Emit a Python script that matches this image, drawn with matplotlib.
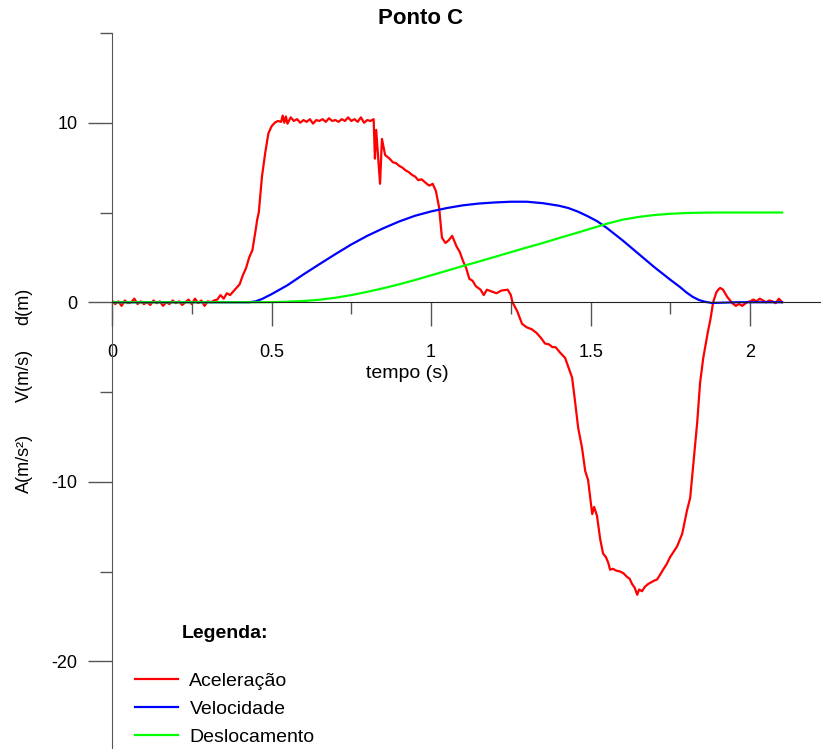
import matplotlib
matplotlib.use("Agg")
import matplotlib.pyplot as plt
from matplotlib.ticker import MultipleLocator

plt.rcParams["font.family"] = ["Liberation Sans", "DejaVu Sans"]

# Aceleracao (m/s2)
t_acc = [0.00, 0.01, 0.02, 0.03, 0.04, 0.05, 0.06, 0.07, 0.08, 0.09,
         0.10, 0.11, 0.12, 0.13, 0.14, 0.15, 0.16, 0.17, 0.18, 0.19,
         0.20, 0.21, 0.22, 0.23, 0.24, 0.25, 0.26, 0.27, 0.28, 0.29,
         0.30, 0.31, 0.32, 0.33, 0.34, 0.35, 0.36, 0.37, 0.38, 0.39,
         0.40, 0.41, 0.42, 0.43, 0.44, 0.45, 0.455, 0.46, 0.47, 0.48,
         0.49, 0.50, 0.51, 0.52, 0.53, 0.535, 0.54, 0.545, 0.55, 0.56,
         0.57, 0.58, 0.59, 0.60, 0.61, 0.62, 0.63, 0.64, 0.65, 0.66,
         0.67, 0.68, 0.69, 0.70, 0.71, 0.72, 0.73, 0.74, 0.75, 0.76,
         0.77, 0.78, 0.79, 0.80, 0.81, 0.82, 0.824, 0.828, 0.84, 0.846,
         0.856, 0.87, 0.88, 0.89, 0.90, 0.91, 0.92, 0.93, 0.94, 0.95,
         0.96, 0.97, 0.98, 0.99, 0.995, 1.005, 1.015, 1.025, 1.034, 1.045,
         1.055, 1.066, 1.08, 1.09, 1.10, 1.11, 1.12, 1.13, 1.14, 1.155,
         1.165, 1.175, 1.19, 1.205, 1.22, 1.24, 1.25, 1.255, 1.27, 1.285,
         1.30, 1.315, 1.33, 1.345, 1.357, 1.37, 1.38, 1.39, 1.404, 1.42,
         1.43, 1.442, 1.451, 1.461, 1.473, 1.483, 1.492, 1.505, 1.511, 1.52,
         1.53, 1.539, 1.548, 1.555, 1.561, 1.57, 1.58, 1.592, 1.603, 1.614,
         1.622, 1.63, 1.638, 1.646, 1.652, 1.661, 1.67, 1.68, 1.69, 1.70,
         1.708, 1.717, 1.727, 1.738, 1.749, 1.76, 1.771, 1.78, 1.787, 1.795,
         1.802, 1.812, 1.821, 1.834, 1.843, 1.853, 1.868, 1.875, 1.884, 1.894,
         1.90, 1.906, 1.915, 1.928, 1.944, 1.955, 1.965, 1.975, 1.99, 2.00,
         2.01, 2.02, 2.03, 2.04, 2.05, 2.06, 2.07, 2.08, 2.09, 2.10]
acc = [0.1, -0.1, 0.05, -0.2, 0.1, -0.05, 0.0, 0.2, -0.1, 0.05,
       -0.1, 0.0, -0.15, 0.1, -0.05, 0.05, -0.2, 0.0, -0.1, 0.1,
       -0.05, 0.05, -0.15, 0.0, 0.15, -0.1, 0.2, -0.05, 0.1, -0.2,
       0.05, 0.0, 0.1, 0.15, 0.4, 0.2, 0.5, 0.4, 0.6, 0.8,
       1.0, 1.5, 1.9, 2.5, 2.9, 4.0, 4.6, 5.0, 7.0, 8.3,
       9.4, 9.8, 10.0, 10.1, 10.05, 10.4, 10.0, 10.35, 9.95, 10.3,
       10.1, 10.2, 10.0, 10.15, 10.05, 10.2, 9.95, 10.15, 10.1, 10.2,
       10.05, 10.25, 10.1, 10.15, 10.05, 10.2, 10.1, 10.3, 10.1, 10.2,
       10.05, 10.3, 10.0, 10.15, 10.1, 10.2, 8.0, 9.6, 6.6, 9.1,
       8.2, 8.0, 7.8, 7.75, 7.6, 7.5, 7.35, 7.25, 7.1, 7.0,
       6.8, 6.85, 6.7, 6.55, 6.5, 6.6, 6.2, 5.3, 3.6, 3.3,
       3.45, 3.7, 3.1, 2.8, 2.3, 1.9, 1.3, 1.2, 0.9, 0.7,
       0.4, 0.7, 0.6, 0.5, 0.65, 0.7, 0.4, 0.0, -0.5, -1.2,
       -1.4, -1.5, -1.7, -2.0, -2.3, -2.35, -2.5, -2.5, -2.8, -3.1,
       -3.6, -4.2, -5.5, -7.0, -8.1, -9.4, -9.9, -11.8, -11.4, -11.9,
       -13.2, -14.0, -14.2, -14.5, -14.9, -14.85, -14.95, -15.0, -15.1, -15.3,
       -15.4, -15.7, -15.9, -16.3, -16.0, -16.1, -15.85, -15.7, -15.6, -15.5,
       -15.45, -15.2, -14.9, -14.6, -14.2, -13.9, -13.6, -13.2, -12.9, -12.2,
       -11.6, -10.9, -9.2, -6.7, -4.5, -3.1, -1.6, -1.0, 0.0, 0.55,
       0.7, 0.8, 0.7, 0.3, -0.05, -0.2, -0.1, -0.2, 0.0, 0.05,
       0.15, 0.05, 0.2, 0.1, 0.0, 0.1, 0.05, -0.05, 0.2, 0.0]

# Velocidade (m/s)
t_vel = [0.0, 0.43, 0.45, 0.47, 0.50, 0.55, 0.60, 0.65, 0.70, 0.75,
         0.80, 0.85, 0.90, 0.95, 1.00, 1.05, 1.10, 1.15, 1.20, 1.25,
         1.30, 1.35, 1.40, 1.43, 1.46, 1.49, 1.52, 1.55, 1.60, 1.65,
         1.70, 1.75, 1.78, 1.80, 1.82, 1.84, 1.86, 1.88, 1.92, 1.96, 2.10]
vel = [0.0, 0.0, 0.05, 0.18, 0.45, 0.95, 1.55, 2.12, 2.68, 3.22,
       3.7, 4.12, 4.5, 4.82, 5.06, 5.25, 5.4, 5.5, 5.56, 5.6,
       5.6, 5.52, 5.38, 5.25, 5.05, 4.8, 4.52, 4.15, 3.45, 2.7,
       1.95, 1.25, 0.85, 0.55, 0.3, 0.12, 0.02, -0.04, -0.02, 0.0, 0.0]

# Deslocamento (m)
t_disp = [0.0, 0.45, 0.50, 0.55, 0.60, 0.65, 0.70, 0.75, 0.80, 0.85,
          0.90, 0.95, 1.00, 1.05, 1.10, 1.15, 1.20, 1.25, 1.30, 1.35,
          1.40, 1.45, 1.50, 1.55, 1.60, 1.65, 1.70, 1.75, 1.80, 1.85,
          1.90, 2.10]
disp = [0.0, 0.0, 0.005, 0.03, 0.07, 0.14, 0.25, 0.4, 0.58, 0.78,
        1.0, 1.24, 1.5, 1.76, 2.02, 2.27, 2.53, 2.79, 3.05, 3.3,
        3.57, 3.83, 4.1, 4.37, 4.6, 4.75, 4.86, 4.93, 4.97, 4.99,
        5.0, 5.0]

fig = plt.figure(figsize=(8.21, 7.49), dpi=100)
ax = fig.add_axes([112 / 821, -2 / 749, 709 / 821, 718 / 749])

ax.plot(t_acc, acc, color="#ff0000", lw=1.6, label="Aceleração")
ax.plot(t_vel, vel, color="#0000ff", lw=1.6, label="Velocidade")
ax.plot(t_disp, disp, color="#00ff00", lw=1.6, label="Deslocamento")

ax.set_xlim(0, 2.222)
ax.set_ylim(-25, 15)

ax.spines["top"].set_visible(False)
ax.spines["right"].set_visible(False)
ax.spines["bottom"].set_position(("data", 0))
ax.spines["left"].set_color("#555555")
ax.spines["bottom"].set_color("#222222")

ax.xaxis.set_minor_locator(MultipleLocator(0.25))
ax.yaxis.set_minor_locator(MultipleLocator(5))
ax.set_xticks([0, 0.5, 1, 1.5, 2])
ax.set_xticklabels(["0", "0.5", "1", "1.5", "2"])
ax.set_yticks([-20, -10, 0, 10])
ax.set_yticklabels(["-20", "-10", "0", "10"])

ax.tick_params(axis="both", which="major", length=17, width=1, color="#555555",
               labelsize=13)
ax.tick_params(axis="both", which="minor", length=8.5, width=1, color="#555555")
ax.tick_params(axis="x", which="major", pad=13)
ax.tick_params(axis="y", which="major", pad=8)

fig.text(407 / 821, 1 - 373 / 749, "tempo (s)", fontsize=14, ha="center", va="center")
fig.text(421 / 821, 1 - 18 / 749, "Ponto C", fontsize=16, fontweight="bold",
         ha="center", va="center")
fig.text(24 / 821, 1 - 306 / 749, "d(m)", fontsize=13, rotation=90, ha="center", va="center")
fig.text(24 / 821, 1 - 375 / 749, "V(m/s)", fontsize=13, rotation=90, ha="center", va="center")
fig.text(24 / 821, 1 - 463 / 749, "A(m/s²)", fontsize=13, rotation=90, ha="center", va="center")

leg = ax.legend(loc="upper left", bbox_to_anchor=(135 / 821, 1 - 625 / 749),
                bbox_transform=fig.transFigure, frameon=False, fontsize=14,
                title="Legenda:", title_fontproperties={"weight": "bold", "size": 14},
                handlelength=2.2, handletextpad=0.6, labelspacing=0.53,
                borderpad=0, borderaxespad=0)
leg._legend_box.sep = 22

fig.savefig("out.png", dpi=100)
